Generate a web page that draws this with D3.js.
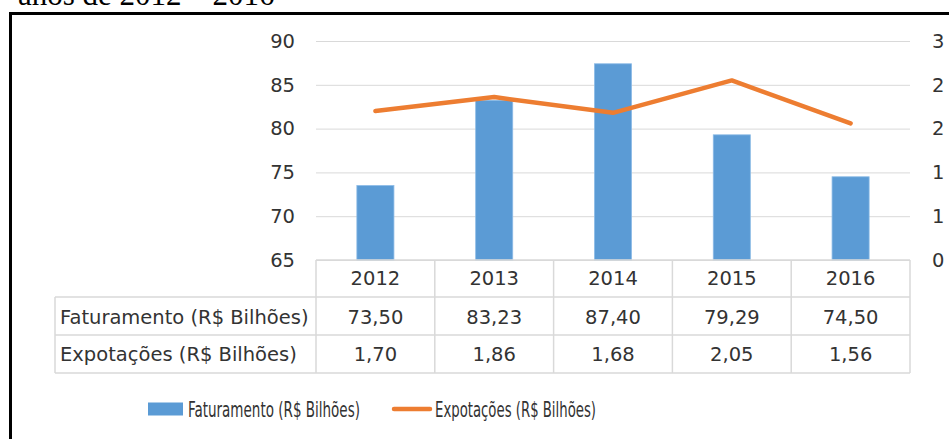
<!DOCTYPE html>
<meta charset="utf-8">
<style>
  body { margin: 0; background: #fff; }
  svg { display: block; }
  text { font-family: "DejaVu Sans", sans-serif; fill: #333; }
</style>
<body>
<div id="chart"></div>
<script src="https://cdn.jsdelivr.net/npm/d3@7/dist/d3.min.js"></script>
<script>
  const years = ['2012', '2013', '2014', '2015', '2016'];
  const faturamento = [73.50, 83.23, 87.40, 79.29, 74.50];
  const exportacoes = [1.70, 1.86, 1.68, 2.05, 1.56];
  const leftTicks = [65, 70, 75, 80, 85, 90];
  const rightTicks = [0, 0.5, 1, 1.5, 2, 2.5];
  const seriesNames = ['Faturamento (R$ Bilhões)', 'Expotações (R$ Bilhões)'];
  const title = 'anos de 2012 – 2016';

  const blue = '#5b9bd5';
  const orange = '#ed7d31';
  const gridColor = '#d9d9d9';
  const fmt = d => d.toFixed(2).replace('.', ',');

  const W = 949, H = 439;
  const svg = d3.select('#chart').append('svg')
      .attr('width', W)
      .attr('height', H);

  // título cortado no topo
  svg.append('text')
      .attr('x', 18).attr('y', 5)
      .style('font-family', '"Liberation Serif", serif')
      .style('font-size', '31px')
      .style('fill', '#000')
      .text(title);

  // moldura
  svg.append('path')
      .attr('d', 'M10.5,' + H + 'V13.5H' + W)
      .attr('fill', 'none')
      .attr('stroke', '#000')
      .attr('stroke-width', 3);

  const x = d3.scaleBand().domain(years).range([316, 910]);
  const y = d3.scaleLinear().domain([65, 90]).range([260, 41]);
  const y2 = d3.scaleLinear().domain([0, 2.5]).range([260, 41]);

  // grade
  svg.append('g')
      .attr('transform', 'translate(316,0)')
      .call(d3.axisRight(y).tickValues(leftTicks).tickSize(594).tickFormat(''))
      .call(g => g.select('.domain').remove())
      .call(g => g.selectAll('line').attr('stroke', gridColor));

  // eixo esquerdo
  svg.append('g')
      .attr('transform', 'translate(316,0)')
      .call(d3.axisLeft(y).tickValues(leftTicks).tickSize(0).tickPadding(21))
      .call(g => g.select('.domain').remove())
      .call(g => g.selectAll('text').style('font-size', '19.5px').attr('fill', null));

  // eixo direito
  svg.append('g')
      .attr('transform', 'translate(910,0)')
      .call(d3.axisRight(y2).tickValues(rightTicks).tickSize(0).tickPadding(22)
          .tickFormat(d => String(Math.round(d))))
      .call(g => g.select('.domain').remove())
      .call(g => g.selectAll('text').style('font-size', '19.5px').attr('fill', null));

  // barras
  const bw = x.bandwidth() * 0.312;
  svg.append('g').selectAll('rect').data(faturamento).enter().append('rect')
      .attr('x', (d, i) => x(years[i]) + x.bandwidth() / 2 - bw / 2)
      .attr('y', d => y(d))
      .attr('width', bw)
      .attr('height', d => y(65) - y(d))
      .attr('fill', blue)
      .attr('stroke', '#8cbbe6')
      .attr('stroke-width', 0.8);

  // linha
  const line = d3.line()
      .x((d, i) => x(years[i]) + x.bandwidth() / 2)
      .y(d => y2(d));
  svg.append('path')
      .datum(exportacoes)
      .attr('d', line)
      .attr('fill', 'none')
      .attr('stroke', orange)
      .attr('stroke-width', 4.5)
      .attr('stroke-linecap', 'round')
      .attr('stroke-linejoin', 'round');

  // tabela de dados
  const rowTop = [260, 297, 335, 373];
  const tbl = svg.append('g').attr('stroke', gridColor).attr('stroke-width', 1.5);
  tbl.append('line').attr('x1', 316).attr('x2', 910).attr('y1', rowTop[0]).attr('y2', rowTop[0]);
  rowTop.slice(1).forEach(r => {
    tbl.append('line').attr('x1', 55).attr('x2', 910).attr('y1', r).attr('y2', r);
  });
  tbl.append('line').attr('x1', 55).attr('x2', 55).attr('y1', rowTop[1]).attr('y2', rowTop[3]);
  years.concat([null]).forEach((yr, i) => {
    const xx = yr ? x(yr) : x.range()[1];
    tbl.append('line').attr('x1', xx).attr('x2', xx).attr('y1', rowTop[0]).attr('y2', rowTop[3]);
  });

  const cx = d => x(d) + x.bandwidth() / 2;
  const cell = (xx, yy, t, anchor) => svg.append('text')
      .attr('x', xx).attr('y', yy)
      .attr('dy', '0.36em')
      .attr('text-anchor', anchor)
      .style('font-size', '19.5px')
      .text(t);

  years.forEach((yr, i) => {
    cell(cx(yr), 278, yr, 'middle');
    cell(cx(yr), 316.5, fmt(faturamento[i]), 'middle');
    cell(cx(yr), 354, fmt(exportacoes[i]), 'middle');
  });
  cell(60, 316.5, seriesNames[0], 'start');
  cell(60, 354, seriesNames[1], 'start');

  // legenda
  const lg = svg.append('g');
  lg.append('rect')
      .attr('x', 148).attr('y', 402.5).attr('width', 35).attr('height', 13)
      .attr('fill', blue);
  lg.append('text')
      .attr('x', 188).attr('y', 417)
      .attr('textLength', 172).attr('lengthAdjust', 'spacingAndGlyphs')
      .style('font-family', '"DejaVu Sans Condensed", "DejaVu Sans", sans-serif')
      .style('font-size', '21.5px')
      .text(seriesNames[0]);
  lg.append('line')
      .attr('x1', 394).attr('x2', 430).attr('y1', 409).attr('y2', 409)
      .attr('stroke', orange).attr('stroke-width', 4.5).attr('stroke-linecap', 'round');
  lg.append('text')
      .attr('x', 435).attr('y', 417)
      .attr('textLength', 161).attr('lengthAdjust', 'spacingAndGlyphs')
      .style('font-family', '"DejaVu Sans Condensed", "DejaVu Sans", sans-serif')
      .style('font-size', '21.5px')
      .text(seriesNames[1]);
</script>
